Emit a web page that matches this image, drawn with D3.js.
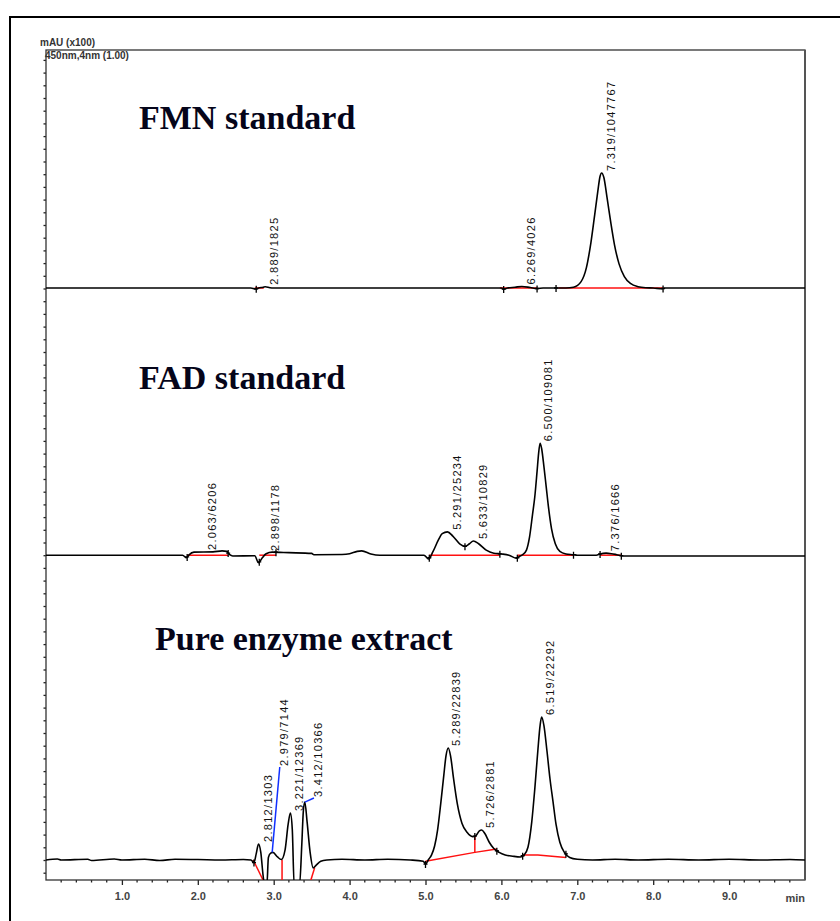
<!DOCTYPE html>
<html><head><meta charset="utf-8">
<script src="https://cdn.jsdelivr.net/npm/d3@7/dist/d3.min.js"></script>
<style>
body{margin:0;background:#fff;}
svg{display:block;}
</style></head>
<body>
<svg id="chart" width="840" height="921"></svg>
<script>
// ---------- DATA ----------
const titles = ["FMN standard", "FAD standard", "Pure enzyme extract"];
// stacked chromatogram offsets (mAU x100) of each trace's baseline
const panelOffsets = [22.52, 12.0, 0];

const xTickValues = [1, 2, 3, 4, 5, 6, 7, 8, 9];
const xUnit = "min";
const yAxisLabel = "mAU (x100)";
const channelLabel = "450nm,4nm (1.00)";

// [time (min), absorbance (mAU x100)]
const fmnTrace = [
  [0,0],[2.70,0],[2.76,-0.04],[2.80,0],[2.86,0.03],[2.89,0.05],[2.95,0.01],[3.0,0],
  [6.0,0],[6.03,-0.04],[6.08,0],[6.18,0.03],[6.27,0.06],[6.38,0.02],[6.47,-0.02],[6.55,0],
  [6.85,0],[6.95,0.03],[7.05,0.25],[7.12,0.8],[7.18,1.8],[7.23,2.9],[7.27,3.8],[7.30,4.4],
  [7.32,4.53],[7.35,4.35],[7.39,3.6],[7.44,2.6],[7.49,1.7],[7.55,0.95],[7.62,0.45],
  [7.70,0.18],[7.80,0.05],[7.90,0.01],[8.0,0],[8.12,-0.03],[8.15,0],[10,0]
];
const fadTrace = [
  [0,0],[1.80,0],[1.85,-0.1],[1.88,0],[1.95,0.12],[2.2,0.13],[2.32,0.17],[2.38,0.15],
  [2.42,0.02],[2.46,-0.03],[2.75,-0.02],[2.80,-0.3],[2.85,-0.1],[2.90,0.06],[2.98,0.12],
  [3.2,0.1],[3.5,0.07],[3.53,0.02],[3.9,0.03],[4.0,0.06],[4.1,0.15],[4.16,0.17],[4.28,0.05],
  [4.4,0],[4.98,0],[5.04,-0.15],[5.10,0.15],[5.17,0.6],[5.22,0.85],[5.29,0.92],[5.36,0.75],
  [5.45,0.45],[5.52,0.35],[5.58,0.45],[5.63,0.56],[5.70,0.45],[5.80,0.2],[5.90,0.08],
  [6.0,0.05],[6.1,0.0],[6.20,-0.12],[6.24,-0.04],[6.28,0.02],[6.33,0.2],[6.37,0.7],
  [6.41,1.6],[6.44,2.3],[6.47,3.3],[6.49,4.0],[6.51,4.41],[6.53,4.2],[6.56,3.5],[6.59,2.7],
  [6.62,1.9],[6.66,1.05],[6.71,0.45],[6.77,0.15],[6.85,0.05],[6.95,0.02],[7.0,0],[7.25,0],
  [7.30,0.05],[7.38,0.08],[7.45,0.06],[7.52,0.02],[7.60,-0.03],[10,-0.03]
];
const enzymeTrace = [
  [0,0],[0.15,0.04],[0.2,0],[0.55,0.03],[0.6,-0.02],[0.9,0.04],[1.0,0],[1.3,0.03],[1.5,-0.02],
  [1.7,0.03],[2.0,0.02],[2.3,0],[2.6,0.02],[2.70,0],[2.74,-0.1],[2.77,0.25],[2.80,0.63],
  [2.83,0.3],[2.86,-0.6],[2.88,-1.0],[2.91,-1.0],[2.93,0.1],[2.96,0.27],[2.99,0.3],[3.05,0.12],
  [3.10,0.02],[3.15,0.4],[3.19,1.4],[3.22,1.85],[3.245,1.2],[3.27,-1.0],[3.34,-1.0],[3.37,0.6],
  [3.39,1.9],[3.41,2.28],[3.44,1.5],[3.48,0.3],[3.52,-0.31],[3.56,-0.2],[3.62,-0.05],[3.7,0],
  [3.9,0.03],[4.2,0],[4.5,0.03],[4.8,0],[4.97,-0.05],[5.0,-0.16],[5.04,0.02],[5.08,0.2],
  [5.12,0.55],[5.16,1.2],[5.20,2.2],[5.24,3.3],[5.27,4.1],[5.30,4.41],[5.33,4.1],[5.37,3.2],
  [5.42,2.2],[5.48,1.45],[5.55,1.08],[5.62,0.92],[5.66,0.95],[5.71,1.15],[5.74,1.18],
  [5.78,1.05],[5.84,0.7],[5.90,0.45],[5.97,0.3],[6.05,0.2],[6.15,0.15],[6.25,0.12],[6.30,0.2],
  [6.35,0.5],[6.40,1.5],[6.44,2.8],[6.48,4.3],[6.51,5.3],[6.53,5.63],[6.56,5.3],[6.60,4.3],
  [6.64,3.2],[6.68,2.3],[6.72,1.4],[6.77,0.7],[6.83,0.3],[6.90,0.1],[7.0,0.03],[7.2,0],
  [7.5,0.03],[7.8,0],[8.2,0.03],[8.6,0],[9.0,0.03],[9.4,0],[9.8,0.02],[10,0]
];
const traces = [fmnTrace, fadTrace, enzymeTrace];

// integration baselines (red)
const fmnBaselines = [[[2.75,0],[2.87,0]], [[5.98,0],[6.47,0]], [[6.75,0],[8.13,0]]];
const fadBaselines = [[[1.86,0],[2.40,0]], [[2.81,0],[3.03,0]], [[5.05,0],[5.52,0],[5.98,0]],
  [[6.21,0],[6.95,0]], [[7.30,0],[7.58,0]]];
const enzymeBaselines = [[[2.73,0],[2.86,-0.79]], [[3.11,0],[3.11,-0.79]], [[3.49,-0.79],[3.54,-0.3]],
  [[5.0,-0.05],[5.65,0.3],[5.94,0.43]], [[5.65,0.3],[5.65,0.93]], [[6.28,0.2],[6.48,0.2],[6.85,0.1]]];
const baselines = [fmnBaselines, fadBaselines, enzymeBaselines];

// integration event marks
const fmnMarks = [2.77, 6.03, 6.47, 6.72, 8.13];
const fadMarks = [1.86, 2.40, 2.81, 3.03, 5.05, 5.52, 5.98, 6.21, 6.95, 7.30, 7.58];
const enzymeMarks = [2.74, 5.0, 5.65, 5.94, 6.28, 6.85];
const marks = [fmnMarks, fadMarks, enzymeMarks];

// peak labels  "retention time / area"
const fmnLabels = ["2.889/1825", "6.269/4026", "7.319/1047767"];
const fadLabels = ["2.063/6206", "2.898/1178", "5.291/25234", "5.633/10829", "6.500/109081", "7.376/1666"];
const enzymeLabels = ["2.812/1303", "2.979/7144", "3.221/12369", "3.412/10366", "5.289/22839", "5.726/2881", "6.519/22292"];
const peakLabels = [fmnLabels, fadLabels, enzymeLabels];
// labels moved with a leader line (blue): [from peak], [to label]
const leaders = { "2.979/7144": [[2.98,0.3],[3.08,3.66]], "3.412/10366": [[3.41,2.28],[3.53,2.44]] };

// ---------- DRAW ----------
const svg = d3.select("#chart");
const L = 46, R = 805, T = 50, B = 880;
const pxPerUnit = 25.4;
const x = d3.scaleLinear().domain([0, 10]).range([L, R]);
const y = d3.scaleLinear().domain([-(B - 860) / pxPerUnit, (860 - T) / pxPerUnit]).range([B, T]);

// outer frame
svg.append("rect").attr("x", 10).attr("y", 17).attr("width", 850).attr("height", 930)
  .attr("fill", "none").attr("stroke", "#000").attr("stroke-width", 2);

svg.append("defs").append("clipPath").attr("id", "clip")
  .append("rect").attr("x", L).attr("y", T).attr("width", R - L).attr("height", B - T);

// axes
const xAxis = d3.axisBottom(x).tickValues(xTickValues).tickFormat(d3.format(".1f")).tickSize(5).tickPadding(7);
const gx = svg.append("g").attr("transform", `translate(0,${B})`).call(xAxis);
gx.select(".domain").remove();
gx.selectAll("text").attr("font-family", "Liberation Sans, Arial, sans-serif").attr("font-size", 11)
  .attr("font-weight", "bold").attr("fill", "#444");
gx.selectAll("line").attr("stroke", "#222").attr("stroke-width", 1.3);
const minor = d3.range(0.2, 10, 0.2).filter(v => Math.abs(v - Math.round(v)) > 0.01);
svg.append("g").selectAll("line").data(minor).join("line")
  .attr("x1", d => x(d)).attr("x2", d => x(d)).attr("y1", B).attr("y2", B + 2.5)
  .attr("stroke", "#222").attr("stroke-width", 1.3);

const yTicks = d3.range(-0.5, y.domain()[1], 0.5);
const yAxis = d3.axisLeft(y).tickValues(yTicks).tickSize(2.5).tickFormat("");
const gy = svg.append("g").attr("transform", `translate(${L},0)`).call(yAxis);
gy.select(".domain").remove();
gy.selectAll("line").attr("stroke", "#222").attr("stroke-width", 1.3);

svg.append("text").attr("x", R).attr("y", B + 22).attr("text-anchor", "end")
  .attr("font-family", "Liberation Sans, Arial, sans-serif").attr("font-size", 11)
  .attr("font-weight", "bold").attr("fill", "#444").text(xUnit);

// plot frame
svg.append("rect").attr("x", L).attr("y", T).attr("width", R - L).attr("height", B - T)
  .attr("fill", "none").attr("stroke", "#333").attr("stroke-width", 1.3);
svg.append("line").attr("x1", R).attr("x2", R).attr("y1", T).attr("y2", B)
  .attr("stroke", "#555").attr("stroke-width", 2);

svg.append("text").attr("x", 40).attr("y", 46).attr("font-family", "Liberation Sans, Arial, sans-serif")
  .attr("font-size", 10).attr("font-weight", "bold").attr("fill", "#333").text(yAxisLabel);
svg.append("text").attr("x", 45).attr("y", 59).attr("font-family", "Liberation Sans, Arial, sans-serif")
  .attr("font-size", 10).attr("font-weight", "bold").attr("fill", "#333").text(channelLabel);

const plot = svg.append("g").attr("clip-path", "url(#clip)");
const line = off => d3.line().x(d => x(d[0])).y(d => y(d[1] + off));

const valueAt = (tr, t) => {
  const i = d3.bisector(d => d[0]).left(tr, t);
  if (i <= 0) return tr[0][1];
  if (i >= tr.length) return tr[tr.length - 1][1];
  const a = tr[i - 1], b = tr[i];
  return a[1] + (b[1] - a[1]) * (t - a[0]) / (b[0] - a[0]);
};

const titleY = [129, 389, 650];
const titleX = [139, 139, 155];

traces.forEach((tr, p) => {
  const off = panelOffsets[p];
  // red baselines
  baselines[p].forEach(seg => {
    plot.append("path").datum(seg).attr("d", line(off)).attr("fill", "none")
      .attr("stroke", "#ff1010").attr("stroke-width", 1.5);
  });
  // trace
  plot.append("path").datum(tr).attr("d", line(off).curve(d3.curveMonotoneX))
    .attr("fill", "none").attr("stroke", "#000").attr("stroke-width", 1.6);
  // marks
  plot.append("g").selectAll("path").data(marks[p]).join("path")
    .attr("d", t => {
      const cx = x(t), cy = y(valueAt(tr, t) + off);
      return `M${cx},${cy - 3}V${cy + 4}M${cx - 2},${cy}H${cx + 2}`;
    })
    .attr("stroke", "#000").attr("stroke-width", 1.3).attr("fill", "none");
  // labels
  peakLabels[p].forEach(lbl => {
    const rt = parseFloat(lbl.split("/")[0]);
    let lx, ly;
    if (leaders[lbl]) {
      const seg = leaders[lbl];
      svg.append("path").datum(seg).attr("d", line(off)).attr("fill", "none")
        .attr("stroke", "#1030ff").attr("stroke-width", 1.5);
      lx = x(seg[1][0]) + 8; ly = y(seg[1][1] + off) - 1;
    } else {
      const vals = tr.filter(d => Math.abs(d[0] - rt) <= 0.045).map(d => d[1]);
      vals.push(valueAt(tr, rt - 0.04), valueAt(tr, rt), valueAt(tr, rt + 0.04));
      const vmax = d3.max(vals);
      lx = x(rt) + 13; ly = y(Math.max(vmax, 0.05) + off) - 2;
    }
    svg.append("text").attr("transform", `translate(${lx},${ly}) rotate(-90)`)
      .attr("font-family", "Liberation Sans, Arial, sans-serif").attr("font-size", 11)
      .attr("letter-spacing", 1.3).attr("fill", "#111").text(lbl);
  });
  // title
  svg.append("text").attr("x", titleX[p]).attr("y", titleY[p])
    .attr("font-family", "Liberation Serif, Times New Roman, serif").attr("font-weight", "bold")
    .attr("font-size", 34).attr("fill", "#05051a").text(titles[p]);
});
</script>
</body></html>
